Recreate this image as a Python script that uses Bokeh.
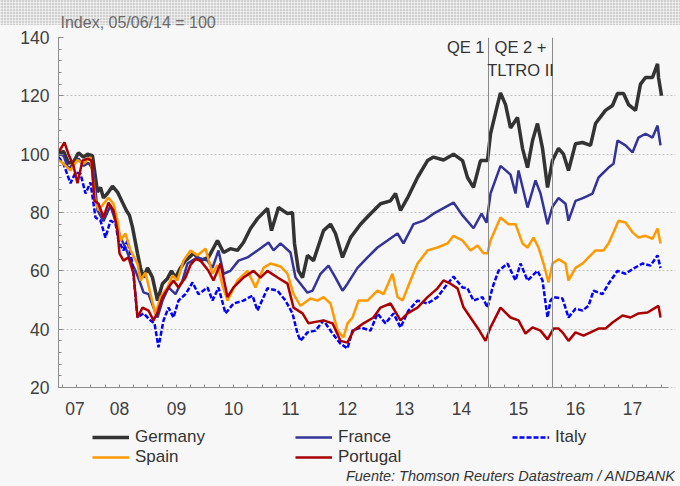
from bokeh.plotting import figure
from bokeh.models import Range1d, FixedTicker, Label, Legend, LegendItem, Title
from bokeh.embed import file_html
from bokeh.resources import INLINE

FONT = "Liberation Sans"

subtitle = "Index, 05/06/14 = 100"
source_text = "Fuente: Thomson Reuters Datastream / ANDBANK"

year_ticks = [2007.72, 2008.5, 2009.5, 2010.5, 2011.5, 2012.5, 2013.5, 2014.5, 2015.5, 2016.5, 2017.5]
year_labels = ["07", "08", "09", "10", "11", "12", "13", "14", "15", "16", "17"]
y_ticks = [20, 40, 60, 80, 100, 120, 140]

qe_dates = [2014.974, 2016.096]
qe_labels = ["QE 1", "QE 2 +", "TLTRO II"]

germany_t = [2007.430, 2007.518, 2007.605, 2007.693, 2007.781, 2007.868, 2007.939, 2008.026, 2008.114, 2008.167,
             2008.219, 2008.289, 2008.377, 2008.465, 2008.553, 2008.623, 2008.675, 2008.728, 2008.816, 2008.868,
             2008.921, 2008.991, 2009.079, 2009.167, 2009.254, 2009.342, 2009.412, 2009.482, 2009.570, 2009.658,
             2009.798, 2009.921, 2010.061, 2010.219, 2010.325, 2010.447, 2010.570, 2010.675, 2010.798, 2010.921,
             2011.096, 2011.167, 2011.289, 2011.447, 2011.535, 2011.570, 2011.640, 2011.711, 2011.798, 2011.904,
             2012.079, 2012.202, 2012.289, 2012.412, 2012.553, 2012.728, 2012.904, 2013.079, 2013.254, 2013.342,
             2013.430, 2013.553, 2013.728, 2013.904, 2014.009, 2014.184, 2014.360, 2014.518, 2014.605, 2014.711,
             2014.833, 2014.956, 2015.009, 2015.132, 2015.184, 2015.272, 2015.360, 2015.482, 2015.570, 2015.658,
             2015.746, 2015.833, 2015.921, 2016.009, 2016.096, 2016.202, 2016.289, 2016.377, 2016.500, 2016.623,
             2016.763, 2016.851, 2017.026, 2017.149, 2017.237, 2017.342, 2017.430, 2017.553, 2017.640, 2017.728,
             2017.851, 2017.939, 2017.956, 2018.009]
germany_v = [100, 101, 97, 97.3, 100.5, 99, 100, 99.5, 87, 88.6,
             85, 86.5, 89, 87, 83.4, 80.6, 79, 75, 66, 61,
             57.7, 61, 57.7, 49.8, 55.6, 57.4, 60, 57.7, 61, 63.5,
             66, 63.5, 64.6, 70.4, 66.3, 67.6, 67, 69.7, 74.5, 77.9,
             81.4, 73.8, 81.7, 79.6, 80, 69.4, 60, 57.7, 65.3, 63.5,
             73.8, 76, 72.8, 64.6, 71.4, 76, 79.6, 83, 84, 86.5,
             80.7, 85, 92, 97.8, 99, 98, 100, 97.8, 92, 88.6,
             97.8, 97.8, 107, 117, 121, 117, 109, 112.6, 102, 95.4,
             104.7, 110.5, 102, 88.6, 97.8, 102, 100, 94.4, 103.6, 104,
             103, 110.5, 115, 116.7, 120.8, 120.8, 117, 115, 124, 126.3,
             126.3, 131, 126.3, 120]

france_t = [2007.430, 2007.518, 2007.605, 2007.781, 2007.868, 2007.956, 2008.044, 2008.114, 2008.219, 2008.342,
            2008.430, 2008.518, 2008.605, 2008.693, 2008.781, 2008.868, 2008.921, 2009.009, 2009.096, 2009.167,
            2009.254, 2009.360, 2009.482, 2009.605, 2009.693, 2009.868, 2010.044, 2010.132, 2010.237, 2010.325,
            2010.447, 2010.588, 2010.746, 2010.921, 2011.114, 2011.202, 2011.325, 2011.500, 2011.588, 2011.675,
            2011.798, 2011.886, 2012.026, 2012.167, 2012.289, 2012.412, 2012.500, 2012.675, 2012.851, 2013.026,
            2013.202, 2013.377, 2013.482, 2013.658, 2013.833, 2014.009, 2014.184, 2014.360, 2014.518, 2014.711,
            2014.851, 2014.939, 2015.009, 2015.184, 2015.360, 2015.447, 2015.500, 2015.658, 2015.798, 2015.886,
            2016.009, 2016.096, 2016.202, 2016.325, 2016.377, 2016.500, 2016.640, 2016.798, 2016.904, 2017.079,
            2017.167, 2017.237, 2017.377, 2017.500, 2017.605, 2017.728, 2017.851, 2017.939, 2017.991]
france_v = [100, 99.5, 95, 98.5, 96, 97, 94.4, 80.7, 77, 82.4,
            77, 71.4, 68, 63.5, 60, 55.6, 52.6, 52, 47.4, 44,
            49.8, 54.3, 52, 56.7, 62.5, 64.6, 63.5, 61, 67, 59,
            60, 63.5, 64.6, 67, 69.7, 67, 69.4, 66.3, 57.7, 55.6,
            52.5, 53.2, 59, 61.8, 57.7, 53.2, 55.6, 61, 64.6, 68,
            70.4, 72.8, 69.4, 76, 77.2, 79.6, 81.5, 83.4, 79, 74.6,
            79.6, 76.5, 86.5, 96, 93, 86.5, 94.4, 81.7, 91, 86.5,
            76, 82, 85, 83, 77.2, 84, 85, 86.5, 92, 95.4,
            96.7, 104.7, 103, 100.6, 105.7, 107, 105.7, 109.8, 103]

italy_t = [2007.430, 2007.518, 2007.640, 2007.728, 2007.816, 2007.904, 2007.991, 2008.079, 2008.167, 2008.254,
           2008.342, 2008.430, 2008.482, 2008.570, 2008.640, 2008.728, 2008.816, 2008.921, 2009.044, 2009.114,
           2009.184, 2009.272, 2009.360, 2009.447, 2009.535, 2009.658, 2009.781, 2009.886, 2010.044, 2010.132,
           2010.237, 2010.360, 2010.500, 2010.675, 2010.833, 2010.921, 2011.096, 2011.272, 2011.412, 2011.535,
           2011.623, 2011.675, 2011.798, 2011.939, 2012.079, 2012.237, 2012.377, 2012.500, 2012.588, 2012.728,
           2012.904, 2013.026, 2013.167, 2013.307, 2013.430, 2013.570, 2013.728, 2013.904, 2014.079, 2014.254,
           2014.360, 2014.518, 2014.605, 2014.711, 2014.868, 2014.956, 2015.044, 2015.149, 2015.307, 2015.447,
           2015.535, 2015.658, 2015.833, 2015.921, 2016.009, 2016.061, 2016.114, 2016.272, 2016.377, 2016.500,
           2016.623, 2016.728, 2016.816, 2016.974, 2017.079, 2017.237, 2017.377, 2017.518, 2017.675, 2017.816,
           2017.939, 2017.991]
italy_v = [99, 96.7, 90, 93.7, 93.3, 86.5, 90.3, 78.3, 77.2, 71.4,
           77.2, 76.2, 70.4, 67, 70.4, 62.5, 44, 45.4, 43, 42,
           33.8, 43, 47.4, 44, 49.8, 52, 56, 52, 54.3, 49.8,
           54.3, 45.4, 48.8, 49.8, 51.5, 46.4, 54, 53.2, 49.8, 45.4,
           38.5, 36, 38.9, 39.5, 43, 38.5, 35, 33.4, 39.5, 40.6,
           39.5, 45.4, 42, 45.4, 40.6, 46.4, 49.8, 48.8, 51, 55.6,
           58, 54.3, 54, 49.8, 51, 47.4, 54.3, 60, 62.5, 56.7,
           62.5, 56.7, 60, 56.7, 44, 49.8, 51, 50.5, 44, 47,
           46.4, 48, 53.2, 52, 55.6, 60, 59, 60.8, 62.5, 61.8,
           65.3, 61]

spain_t = [2007.430, 2007.518, 2007.640, 2007.763, 2007.868, 2007.991, 2008.079, 2008.132, 2008.219, 2008.307,
           2008.395, 2008.465, 2008.518, 2008.605, 2008.693, 2008.816, 2008.868, 2008.956, 2009.044, 2009.132,
           2009.219, 2009.342, 2009.430, 2009.518, 2009.623, 2009.746, 2009.868, 2010.009, 2010.132, 2010.219,
           2010.307, 2010.395, 2010.570, 2010.746, 2010.886, 2011.026, 2011.149, 2011.325, 2011.447, 2011.553,
           2011.675, 2011.851, 2011.974, 2012.079, 2012.202, 2012.325, 2012.430, 2012.500, 2012.588, 2012.693,
           2012.851, 2013.026, 2013.132, 2013.289, 2013.377, 2013.465, 2013.605, 2013.728, 2013.904, 2014.079,
           2014.254, 2014.360, 2014.518, 2014.658, 2014.781, 2014.886, 2014.956, 2015.009, 2015.184, 2015.325,
           2015.447, 2015.570, 2015.658, 2015.763, 2015.851, 2015.939, 2016.026, 2016.096, 2016.202, 2016.325,
           2016.377, 2016.500, 2016.623, 2016.728, 2016.851, 2016.991, 2017.079, 2017.167, 2017.254, 2017.377,
           2017.500, 2017.605, 2017.728, 2017.851, 2017.939, 2017.991]
spain_v = [98, 96.7, 94.4, 98, 96.7, 99, 84, 80.7, 83, 85,
           83, 77.2, 70.4, 72.8, 67, 62.5, 56.7, 59.4, 52, 45,
           51, 54.3, 58.4, 56.7, 63.5, 67, 65.3, 67.6, 59, 62,
           55, 49.8, 56.7, 60, 54.3, 61, 62.5, 61.5, 59, 52,
           48, 50.5, 49.8, 51, 48.8, 39.5, 37.2, 42, 44, 49.8,
           49.8, 53.2, 52, 59, 51, 49.8, 56.7, 62.5, 67, 68,
           69.4, 72, 70.4, 67, 68.7, 66, 66, 70.4, 78.3, 76,
           76, 69.4, 68, 71.4, 68, 62.5, 56, 62.5, 64, 62.5,
           56.7, 61, 62.5, 64.6, 67, 67, 69.4, 73.2, 77.2, 76.6,
           73.2, 71.4, 72, 71, 74.5, 69.4]

portugal_t = [2007.430, 2007.535, 2007.605, 2007.693, 2007.763, 2007.851, 2007.939, 2008.009, 2008.061, 2008.132,
              2008.219, 2008.307, 2008.395, 2008.465, 2008.500, 2008.570, 2008.658, 2008.746, 2008.816, 2008.904,
              2009.009, 2009.096, 2009.167, 2009.254, 2009.360, 2009.447, 2009.535, 2009.658, 2009.746, 2009.833,
              2009.921, 2010.061, 2010.149, 2010.272, 2010.395, 2010.500, 2010.675, 2010.851, 2010.974, 2011.096,
              2011.272, 2011.447, 2011.553, 2011.711, 2011.816, 2011.939, 2012.079, 2012.237, 2012.377, 2012.500,
              2012.605, 2012.781, 2012.956, 2013.079, 2013.254, 2013.430, 2013.553, 2013.728, 2013.904, 2014.079,
              2014.184, 2014.307, 2014.430, 2014.535, 2014.675, 2014.798, 2014.921, 2015.009, 2015.184, 2015.360,
              2015.500, 2015.623, 2015.746, 2015.886, 2016.009, 2016.114, 2016.202, 2016.272, 2016.377, 2016.500,
              2016.640, 2016.763, 2016.904, 2017.026, 2017.149, 2017.325, 2017.465, 2017.605, 2017.763, 2017.904,
              2017.956, 2017.991]
portugal_v = [100.6, 104, 100, 96, 90, 97.8, 98.5, 97.8, 84, 83,
              78.3, 83.4, 80.7, 73.8, 66, 63.5, 64.6, 59, 44, 47.4,
              46.4, 43, 45.7, 51, 54.3, 56.7, 54.3, 57.7, 62, 64,
              63.5, 60, 56.7, 62.5, 51, 54.3, 57.7, 60, 57.7, 60,
              57.7, 55.6, 47.4, 45.4, 42, 42.5, 43, 42, 36, 35.4,
              39.5, 42, 44, 47.4, 48.8, 43, 45.4, 47.4, 51, 54,
              56.7, 55.6, 54, 47.5, 43.5, 40, 36, 40.6, 47.4, 44,
              43, 38.5, 40.6, 39.5, 36.5, 40.2, 40.2, 38.9, 36, 38.9,
              37.8, 38.9, 40.2, 40.2, 42.3, 44.7, 44, 45.4, 45.7, 47.4,
              48, 44]

BG = "#f7f7f7"
TXT = "#333333"

band_css = ("linear-gradient(#f7f7f7, #f7f7f7) 0 25px / 100% 100% no-repeat, "
            "repeating-linear-gradient(90deg, rgba(255,255,255,0.5) 0px, rgba(255,255,255,0.5) 1px, rgba(0,0,0,0) 1px, rgba(0,0,0,0) 3px), "
            "repeating-linear-gradient(0deg, rgba(255,255,255,0.5) 0px, rgba(255,255,255,0.5) 1px, rgba(0,0,0,0) 1px, rgba(0,0,0,0) 3px), "
            "#d0d0d0")

X0, X1 = 2007.43, 2018.13          # extent of the drawn axes
Y0, Y1 = y_ticks[0], y_ticks[-1]
# the frame also holds the legend / source area under the x axis
p = figure(width=680, height=486, x_range=Range1d(X0, 2018.254), y_range=Range1d(-13.94, Y1),
           toolbar_location=None, output_backend="svg",
           min_border_left=58, min_border_right=5, min_border_top=37, min_border_bottom=0,
           background_fill_color=BG, border_fill_color=None, outline_line_color=None,
           styles={"background": band_css})

p.add_layout(Title(text=subtitle, align="left", offset=2, standoff=13, text_font=FONT,
                   text_font_size="16px", text_font_style="normal", text_color="#6a6a6a"), "above")

quarters = [2007.5 + 0.25 * i for i in range(43)]
p.xaxis.ticker = FixedTicker(ticks=year_ticks, minor_ticks=quarters)
p.xaxis.major_label_overrides = {t: l for t, l in zip(year_ticks, year_labels)}
p.xaxis.fixed_location = Y0
p.xaxis.bounds = (X0, X1)
p.yaxis.ticker = FixedTicker(ticks=y_ticks, minor_ticks=list(range(20, 141, 4)))
p.yaxis.bounds = (Y0, Y1)

for ax in (p.xaxis[0], p.yaxis[0]):
    ax.axis_line_color = "#8c8c8c"
    ax.major_tick_line_color = "#8c8c8c"
    ax.minor_tick_line_color = "#8c8c8c"
    ax.major_tick_in = 5
    ax.major_tick_out = 0
    ax.minor_tick_in = 3
    ax.minor_tick_out = 0
    ax.major_label_text_font = FONT
    ax.major_label_text_font_size = "17.5px"
    ax.major_label_text_color = "#404040"
p.xaxis.major_tick_in = 0
p.xaxis.major_label_standoff = 14
p.yaxis.major_label_standoff = 9

p.xgrid.visible = False
p.ygrid.grid_line_color = "#c4c4c4"
p.ygrid.grid_line_dash = "2 2"

rg = p.line(germany_t, germany_v, line_color="#333333", line_width=3.5)
rf = p.line(france_t, france_v, line_color="#333399", line_width=2.5)
ri = p.line(italy_t, italy_v, line_color="#0000ff", line_width=2.5, line_dash="5 2")
rs = p.line(spain_t, spain_v, line_color="#ff9900", line_width=2.5)
rp = p.line(portugal_t, portugal_v, line_color="#aa0000", line_width=2.5)

p.segment(x0=qe_dates, y0=[Y0] * len(qe_dates), x1=qe_dates, y1=[Y1] * len(qe_dates),
          line_color="#8a8a8a", line_width=1)

mid = (qe_dates[0] + qe_dates[1]) / 2
lab_kw = dict(text_font=FONT, text_font_size="16.5px", text_color=TXT, text_baseline="middle")
p.add_layout(Label(x=qe_dates[0], y=136.6, x_offset=-4, text=qe_labels[0], text_align="right", **lab_kw))
p.add_layout(Label(x=mid, y=136.6, text=qe_labels[1], text_align="center", **lab_kw))
p.add_layout(Label(x=mid, y=128.7, text=qe_labels[2], text_align="center", **lab_kw))

leg_kw = dict(label_text_font=FONT, label_text_font_size="17px", label_text_color=TXT,
              glyph_width=37, glyph_height=20, label_height=20, label_standoff=6,
              spacing=0, padding=0, margin=0, border_line_color=None, background_fill_alpha=0)
leg1 = Legend(items=[LegendItem(label="Germany", renderers=[rg]), LegendItem(label="Spain", renderers=[rs])],
              location=(34, 19), **leg_kw)
leg2 = Legend(items=[LegendItem(label="France", renderers=[rf]), LegendItem(label="Portugal", renderers=[rp])],
              location=(237, 19), **leg_kw)
leg3 = Legend(items=[LegendItem(label="Italy", renderers=[ri])], location=(454, 39), **leg_kw)
for lg in (leg1, leg2, leg3):
    p.add_layout(lg)

p.add_layout(Label(x=2018.254, y=-10.3, text=source_text, text_align="right", text_baseline="middle",
                   text_font=FONT, text_font_size="14.5px", text_font_style="italic", text_color=TXT))

open("out.html", "w").write(file_html(p, INLINE))
